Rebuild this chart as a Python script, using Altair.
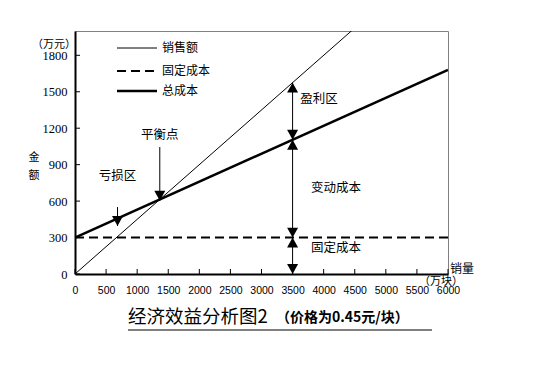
import altair as alt
import pandas as pd

# ---- data ----
quantity = [0, 6000]
sales = [0, 2700]
fixed_cost = [300, 300]
total_cost = [300, 1680]
series_names = ["销售额", "固定成本", "总成本"]

x_ticks = [0, 500, 1000, 1500, 2000, 2500, 3000, 3500, 4000, 4500, 5000, 5500, 6000]
y_ticks = [0, 300, 600, 900, 1200, 1500, 1800]

arrow_q = [3500]
up_heads = [300, 1105, 1575]
down_heads = [0, 300, 1105]

zone_labels = ["盈利区", "变动成本", "固定成本"]
zone_q = [3925, 4200, 4200]
zone_v = [1440, 708, 214]

pointer_labels = ["亏损区", "平衡点"]
pointer_q = [684, 1364]
pointer_label_v = [806, 1144]
pointer_top_v = [551, 1045]
pointer_tip_v = [395, 603]

title_main = "经济效益分析图2"
title_sub = "（价格为0.45元/块）"
y_unit = "（万元）"
y_title = "金\n额"
x_title = "销量"
x_unit = "（万块）"

# ---- styling ----
W, H = 373, 243
CJK = "Noto Sans CJK SC"
UP = "M0,0L-1,1.8L1,1.8Z"
DOWN = "M0,0L-1,-1.8L1,-1.8Z"

xs = alt.Scale(domain=[0, 6000], nice=False)
ys = alt.Scale(domain=[0, 2000], nice=False)

x_axis = alt.Axis(values=x_ticks, title=None, ticks=False, tickSize=0, grid=False,
                  domainColor="black", domainWidth=2, labelFont="Liberation Sans",
                  labelFontSize=10.5, labelColor="black", labelPadding=11,
                  labelFlush=False, labelOverlap=False, format="d")
y_axis = alt.Axis(values=y_ticks, title=None, ticks=False, tickSize=0, grid=False,
                  domainColor="black", domainWidth=2, labelFont="Liberation Serif",
                  labelFontSize=12.5, labelColor="black", labelPadding=8,
                  labelOverlap=False, format="d")


def X(f):
    return alt.X(f, type="quantitative", scale=xs, axis=x_axis)


def Y(f):
    return alt.Y(f, type="quantitative", scale=ys, axis=y_axis)


layers = []

# main lines
layers.append(alt.Chart(pd.DataFrame({"q": quantity, "v": sales}))
              .mark_line(color="black", strokeWidth=1, clip=True)
              .encode(x=X("q"), y=Y("v")))
layers.append(alt.Chart(pd.DataFrame({"q": quantity, "v": fixed_cost}))
              .mark_line(color="black", strokeWidth=2, strokeDash=[9, 5], clip=True)
              .encode(x=X("q"), y=Y("v")))
layers.append(alt.Chart(pd.DataFrame({"q": quantity, "v": total_cost}))
              .mark_line(color="black", strokeWidth=2.5, clip=True)
              .encode(x=X("q"), y=Y("v")))

# inward ticks
layers.append(alt.Chart(pd.DataFrame({"v": y_ticks}))
              .mark_rule(color="black", strokeWidth=1)
              .encode(y=Y("v"), x=alt.value(0), x2=alt.value(5)))
layers.append(alt.Chart(pd.DataFrame({"q": x_ticks}))
              .mark_rule(color="black", strokeWidth=1)
              .encode(x=X("q"), y=alt.value(H), y2=alt.value(H - 5)))

# vertical arrows at 3500
layers.append(alt.Chart(pd.DataFrame({"q": arrow_q, "lo": [down_heads[0]], "hi": [up_heads[-1]]}))
              .mark_rule(color="black", strokeWidth=1)
              .encode(x=X("q"), y=Y("lo"), y2=alt.Y2("hi")))
layers.append(alt.Chart(pd.DataFrame({"q": arrow_q * len(up_heads), "v": up_heads}))
              .mark_point(shape=UP, size=121, filled=True, color="black", opacity=1, strokeWidth=0)
              .encode(x=X("q"), y=Y("v")))
layers.append(alt.Chart(pd.DataFrame({"q": arrow_q * len(down_heads), "v": down_heads}))
              .mark_point(shape=DOWN, size=121, filled=True, color="black", opacity=1, strokeWidth=0)
              .encode(x=X("q"), y=Y("v")))

# zone labels
layers.append(alt.Chart(pd.DataFrame({"q": zone_q, "v": zone_v, "t": zone_labels}))
              .mark_text(font=CJK, fontSize=12.5, color="black", align="center", baseline="middle")
              .encode(x=X("q"), y=Y("v"), text="t:N"))

# pointers
pdf = pd.DataFrame({"q": pointer_q, "top": pointer_top_v, "tip": pointer_tip_v,
                    "lv": pointer_label_v, "t": pointer_labels})
layers.append(alt.Chart(pdf).mark_rule(color="black", strokeWidth=1)
              .encode(x=X("q"), y=Y("top"), y2=alt.Y2("tip")))
layers.append(alt.Chart(pdf)
              .mark_point(shape=DOWN, size=121, filled=True, color="black", opacity=1, strokeWidth=0)
              .encode(x=X("q"), y=Y("tip")))
layers.append(alt.Chart(pdf)
              .mark_text(font=CJK, fontSize=12.5, color="black", align="center", baseline="middle")
              .encode(x=X("q"), y=Y("lv"), text="t:N"))

# manual legend
leg_y = [17, 40, 60]
leg_styles = [dict(strokeWidth=1), dict(strokeWidth=2, strokeDash=[9, 5]), dict(strokeWidth=2.5)]
for name, yy, st in zip(series_names, leg_y, leg_styles):
    d = pd.DataFrame({"t": [name]})
    layers.append(alt.Chart(d).mark_rule(color="black", **st)
                  .encode(x=alt.value(42), x2=alt.value(82), y=alt.value(yy)))
    layers.append(alt.Chart(d).mark_text(font=CJK, fontSize=12, color="black", align="left",
                                         baseline="middle")
                  .encode(x=alt.value(87), y=alt.value(yy), text="t:N"))


def guide_text(txt, x, y, size, align="center", weight="normal", **kw):
    return (alt.Chart(pd.DataFrame({"t": [txt]}))
            .mark_text(font=CJK, fontSize=size, color="black", align=align, baseline="middle",
                       fontWeight=weight, **kw)
            .encode(x=alt.value(x), y=alt.value(y), text="t:N"))


layers.append(guide_text(y_unit, -21, 14, 11))
layers.append(guide_text(y_title, -41, 127, 11, lineBreak="\n", lineHeight=18))
layers.append(guide_text(x_title, 375, 238, 12, align="left"))
layers.append(guide_text(x_unit, 366, 251, 11))
layers.append(guide_text(title_main, 53, 286, 18.5, align="left"))
layers.append(guide_text(title_sub, 201, 287, 14, align="left", weight="bold"))
layers.append(alt.Chart(pd.DataFrame({"t": ["u"]})).mark_rule(color="black", strokeWidth=1)
              .encode(x=alt.value(53), x2=alt.value(357), y=alt.value(299)))

chart = (alt.layer(*layers)
         .properties(width=W, height=H, padding={"left": 67, "top": 23, "right": 95, "bottom": 85},
                     autosize=alt.AutoSizeParams(type="none"), background="white")
         .configure_view(stroke="#808080", strokeWidth=1))

chart.save("out.html", embed_options={"renderer": "svg", "actions": False})
